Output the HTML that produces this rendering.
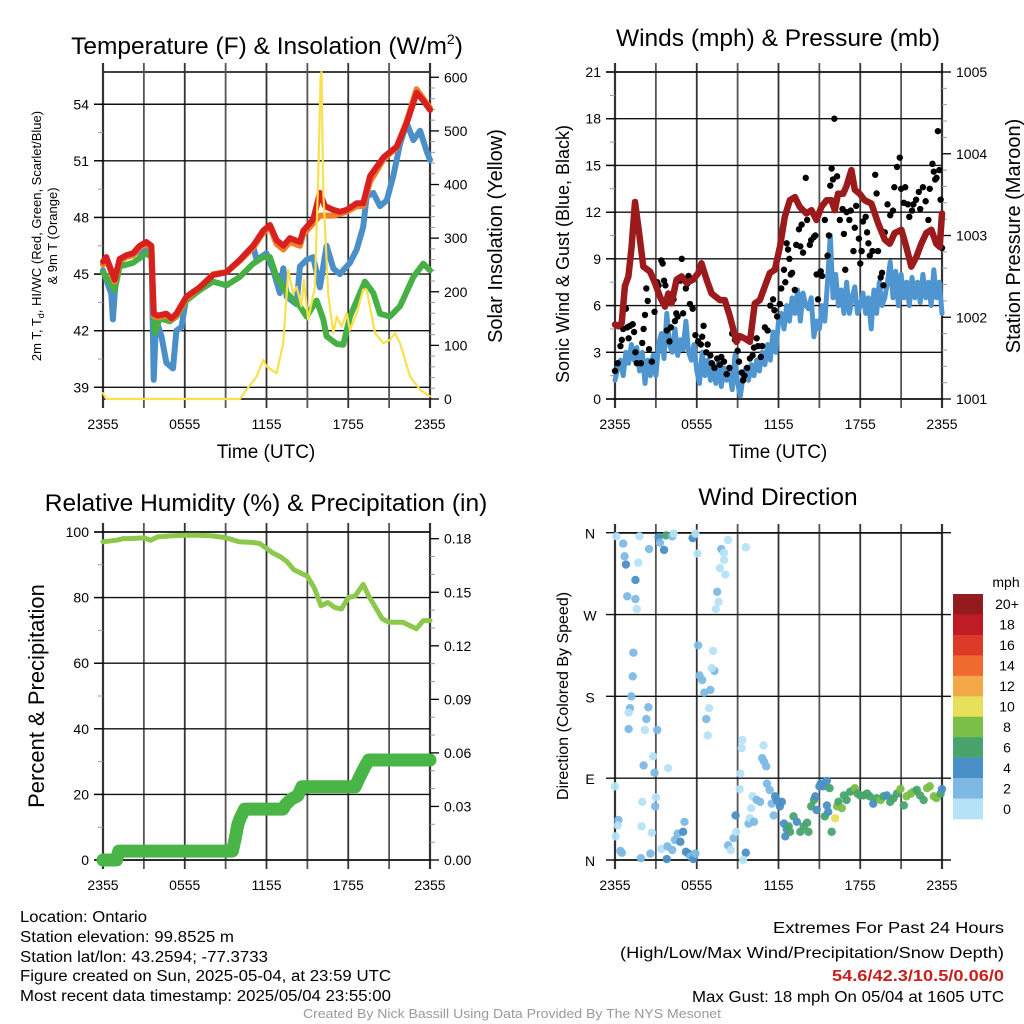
<!DOCTYPE html>
<html><head><meta charset="utf-8"><style>
html,body{margin:0;padding:0;background:#fff;}
svg{display:block;font-family:"Liberation Sans",sans-serif;}
</style></head><body>
<svg id="fig" width="1024" height="1024" viewBox="0 0 1024 1024" xmlns="http://www.w3.org/2000/svg">
<rect width="1024" height="1024" fill="#fff"/>
<g id="tl"></g>
<g id="tr"></g>
<g id="bl"></g>
<g id="br"></g>
<text x="267" y="54" font-size="24.5" text-anchor="middle">Temperature (F) &amp; Insolation (W/m<tspan font-size="14" dy="-10">2</tspan><tspan dy="10">)</tspan></text>
<text x="778" y="46" font-size="24.5" text-anchor="middle">Winds (mph) &amp; Pressure (mb)</text>
<text x="266" y="511" font-size="24.5" text-anchor="middle">Relative Humidity (%) &amp; Precipitation (in)</text>
<text x="778" y="505" font-size="24.5" text-anchor="middle">Wind Direction</text>
<text x="266" y="458" font-size="19" text-anchor="middle">Time (UTC)</text>
<text x="778" y="458" font-size="19" text-anchor="middle">Time (UTC)</text>
<text transform="translate(41,236) rotate(-90)" font-size="13" text-anchor="middle">2m T, T<tspan font-size="9" dy="3">d</tspan><tspan dy="-3">, HI/WC (Red, Green, Scarlet/Blue)</tspan></text>
<text transform="translate(57,236) rotate(-90)" font-size="13" text-anchor="middle">&amp; 9m T (Orange)</text>
<text transform="translate(502,236) rotate(-90)" font-size="20" text-anchor="middle">Solar Insolation (Yellow)</text>
<text transform="translate(569,254) rotate(-90)" font-size="18" text-anchor="middle">Sonic Wind &amp; Gust (Blue, Black)</text>
<text transform="translate(1020,236) rotate(-90)" font-size="20" text-anchor="middle">Station Pressure (Maroon)</text>
<text transform="translate(44,696) rotate(-90)" font-size="22" text-anchor="middle">Percent &amp; Precipitation</text>
<text transform="translate(568,696) rotate(-90)" font-size="16" text-anchor="middle">Direction (Colored By Speed)</text>
<g font-size="15.5">
<text x="20" y="922" textLength="127" lengthAdjust="spacingAndGlyphs">Location: Ontario</text>
<text x="20" y="942" textLength="214" lengthAdjust="spacingAndGlyphs">Station elevation: 99.8525 m</text>
<text x="20" y="962" textLength="248" lengthAdjust="spacingAndGlyphs">Station lat/lon: 43.2594; -77.3733</text>
<text x="20" y="981" textLength="371" lengthAdjust="spacingAndGlyphs">Figure created on Sun, 2025-05-04, at 23:59 UTC</text>
<text x="20" y="1001" textLength="371" lengthAdjust="spacingAndGlyphs">Most recent data timestamp: 2025/05/04 23:55:00</text>
</g>
<g font-size="16">
<text x="773" y="933" textLength="231" lengthAdjust="spacingAndGlyphs">Extremes For Past 24 Hours</text>
<text x="620" y="958" textLength="384" lengthAdjust="spacingAndGlyphs">(High/Low/Max Wind/Precipitation/Snow Depth)</text>
<text x="832" y="981" textLength="172" lengthAdjust="spacingAndGlyphs" font-weight="bold" fill="#c8201e">54.6/42.3/10.5/0.06/0</text>
<text x="692" y="1002" textLength="312" lengthAdjust="spacingAndGlyphs">Max Gust: 18 mph On 05/04 at 1605 UTC</text>
</g>
<text x="303" y="1018" font-size="13" textLength="418" lengthAdjust="spacingAndGlyphs" fill="#999">Created By Nick Bassill Using Data Provided By The NYS Mesonet</text>
</svg>
<script>
// ===== data =====
const xTickLabels = ["2355","0555","1155","1755","2355"];
const tempTicks = [39,42,45,48,51,54];
const solarTicks = [0,100,200,300,400,500,600];
const windTicks = [0,3,6,9,12,15,18,21];
const presTicks = [1001,1002,1003,1004,1005];
const rhTicks = [0,20,40,60,80,100];
const precipTicks = [0,0.03,0.06,0.09,0.12,0.15,0.18];
const dirLabels = ["N","E","S","W","N"];
const speedBins = ["0","2","4","6","8","10","12","14","16","18","20+"];

const redT = [0,0.24,0.86,1.22,1.71,2.2,2.69,3.18,3.55,3.72,4.04,4.65,5.02,5.39,6.12,7.1,8.08,9.06,10.04,11.02,11.76,12.25,12.74,13.23,13.72,14.45,14.7,15.43,15.92,16.29,16.9,17.39,17.88,18.62,19.1,19.6,20.1,20.6,21.55,22.29,23.02,23.51,24];
const redV = [45.66,45.9,44.7,45.8,46,46.1,46.5,46.7,46.5,42.9,42.8,42.9,42.65,42.9,43.8,44.3,44.95,45.1,45.75,46.5,47.3,47.6,46.8,46.5,46.9,46.7,47.3,47.9,49.3,48.6,48.4,48.3,48.4,48.75,48.75,50.2,50.7,51.2,51.75,53,54.6,54.2,53.7];
const orangeV = [45.5,45.8,44.6,45.7,45.9,46,46.4,46.6,46.4,42.8,42.7,42.8,42.6,42.8,43.7,44.3,45,45.1,45.7,46.4,47.2,47.5,46.6,46.3,46.7,46.5,47.1,47.7,48.1,48.1,48.1,48.2,48.3,48.6,48.6,49.9,50.5,51.1,51.7,53.1,54.8,54.3,53.8];
const greenT = [0,0.86,1.22,2.2,3.18,3.55,3.8,4.16,4.9,5.39,6.12,7.1,8.08,9.06,10.04,11.02,11.76,12.25,12.74,13.48,14.45,14.94,15.68,16.17,16.41,17.15,17.64,18.13,18.86,19.23,19.84,20.33,21.06,21.8,22.78,23.51,24];
const greenV = [45.1,44.15,45.4,45.6,46.1,45.9,41.9,42.65,42.5,42.75,43.6,44.15,44.6,44.4,44.85,45.55,45.9,45.9,44.85,44,43.3,42.75,43.6,42.6,41.7,41.3,41.25,42.75,44,44.6,44,42.9,42.75,43.3,44.85,45.55,45.2];
const blueT = [0,0.61,0.73,0.98,1.22,1.5,3.55,3.72,3.9,4.29,4.65,5.14,5.39,5.76,6.12,7.1,8.08,9.06,10.04,11.02,11.27,12.0,12.49,12.98,13.23,13.48,14.21,14.45,14.94,15.43,15.92,16.41,16.9,17.39,18.13,18.62,19.1,19.35,19.84,20.33,20.82,21.31,21.8,22.29,22.78,23.27,23.76,24];
const blueV = [45.2,43.95,42.6,45.2,45.5,45.9,46.4,39.4,42.6,41.7,40.3,40,42,42.2,43.8,44.3,44.95,45.1,45.75,46.5,45.75,46.1,45.2,44,45.3,43.8,43.4,45.4,45.75,45.9,44.3,46.5,45.3,45,45.6,46.3,47.5,49.1,49.3,48.6,48.9,50.2,51.9,53,52.1,52.6,51.5,51.05];
const solarT = [0,0.24,10.04,10.53,11.27,11.76,12.0,12.74,13.23,13.6,13.96,14.21,14.57,14.74,15.06,15.55,15.8,15.97,16.04,16.17,16.53,16.9,17.15,17.51,17.88,18.13,18.62,19.1,19.35,19.96,20.57,21.06,21.43,21.8,22.53,23.27,24];
const solarV = [11,0,0,17,42,73,61,48,104,241,197,209,173,222,148,209,421,600,610,384,197,123,154,135,160,129,160,204,204,123,104,110,123,104,42,17,5];

const presT = [0,0.24,0.49,0.73,0.98,1.22,1.47,1.71,2.08,2.57,2.93,3.3,3.67,3.91,4.15,4.52,4.89,5.25,5.74,6.11,6.35,6.72,7.09,7.7,8.06,8.43,8.92,9.16,9.53,9.9,10.26,10.63,11.0,11.36,11.73,12.1,12.46,12.83,13.2,13.56,14.05,14.42,14.79,15.15,15.52,15.88,16.13,16.37,16.74,16.98,17.35,17.6,17.96,18.33,18.82,19.31,19.8,20.16,20.53,21.02,21.38,21.75,22.12,22.48,22.85,23.22,23.58,23.83,24];
const presV = [1001.91,1001.89,1001.93,1002.38,1002.5,1002.86,1003.41,1003.11,1002.62,1002.56,1002.42,1002.25,1002.13,1002.29,1002.17,1002.46,1002.5,1002.42,1002.46,1002.54,1002.66,1002.46,1002.29,1002.21,1002.21,1002.01,1001.7,1001.77,1001.74,1001.7,1002.17,1002.21,1002.38,1002.54,1002.58,1002.86,1003.23,1003.43,1003.47,1003.35,1003.27,1003.31,1003.19,1003.35,1003.43,1003.43,1003.31,1003.51,1003.51,1003.6,1003.8,1003.56,1003.51,1003.43,1003.39,1003.15,1002.95,1002.9,1003.03,1003.07,1002.86,1002.62,1002.74,1002.9,1003.03,1003.07,1002.9,1002.86,1003.27];
const windV = [1.2,2.0,2.5,1.5,3.0,2.3,3.5,2.5,3.3,1.8,3.0,1.0,2.5,1.5,2.8,1.5,3.5,4.2,2.6,5.5,3.5,3.0,4.5,2.8,3.8,3.2,5.0,3.0,2.5,3.5,1.8,1.0,3.0,1.5,2.5,1.2,2.2,1.0,2.5,0.8,2.0,1.2,1.8,0.6,2.8,1.0,0.2,1.5,2.0,1.2,2.2,1.5,2.5,1.8,3.0,2.2,3.5,2.5,4.3,3.0,5.0,5.5,4.5,6.0,5.0,6.5,5.5,7.0,5.0,6.8,6.0,5.8,6.5,4.0,5.0,4.5,6.0,5.0,7.5,10.5,6.5,8.0,6.0,7.0,5.5,7.5,5.5,6.5,7.2,5.5,6.0,6.8,5.5,6.5,4.5,7.0,5.5,7.5,6.0,6.5,7.5,8.8,6.5,8.2,6.0,8.0,6.5,7.5,6.0,7.8,6.5,7.5,6.2,8.0,6.5,7.5,6.0,8.3,6.5,7.5,5.5];
const gustT = [0,0.2,0.4,0.5,0.6,0.8,0.9,1.0,1.1,1.3,1.4,1.5,1.6,1.9,2.0,2.1,2.2,2.3,2.4,2.5,2.7,2.9,3.1,3.2,3.4,3.5,3.6,3.7,3.8,4.0,4.1,4.3,4.4,4.5,4.6,4.8,4.9,5.0,5.2,5.3,5.4,5.5,5.7,5.9,6.1,6.3,6.4,6.5,6.7,6.8,7.0,7.1,7.3,7.5,7.7,7.8,8.0,8.2,8.4,8.6,8.8,9.0,9.1,9.3,9.4,9.5,9.7,9.9,10.1,10.2,10.4,10.5,10.7,10.8,11.0,11.2,11.4,11.6,11.7,11.9,12.1,12.2,12.4,12.5,12.6,12.7,12.8,12.9,13.0,13.2,13.3,13.5,13.6,13.7,13.8,14.0,14.1,14.3,14.4,14.6,14.7,14.8,14.9,15.1,15.2,15.4,15.6,15.7,15.8,15.9,16.0,16.1,16.3,16.5,16.7,16.8,16.9,17.0,17.2,17.3,17.5,17.6,17.7,17.9,18.0,18.1,18.2,18.4,18.5,18.6,18.7,18.9,19.1,19.2,19.3,19.5,19.6,19.7,19.8,20.0,20.2,20.4,20.5,20.7,20.9,21.0,21.2,21.3,21.5,21.6,21.8,21.9,22.1,22.3,22.4,22.6,22.8,23.0,23.1,23.3,23.4,23.5,23.6,23.7,23.8,23.9,24];
const gustV = [1.8,2.3,3.4,3.8,4.5,5.8,4.6,3.9,4.7,4.8,4.3,3.0,2.3,2.3,3.6,4.5,5.4,7.1,6.3,3.2,2.4,5.6,7.5,7.3,8.9,8.7,7.6,7.3,4.4,3.7,4.6,6.4,5.0,5.5,5.3,7.6,9.0,5.5,7.1,7.4,7.9,6.1,5.8,4.1,3.7,3.5,4.0,4.7,3.0,3.5,2.8,2.3,2.0,2.6,2.2,2.7,2.4,1.6,2.0,4.2,3.8,3.1,2.4,1.7,1.2,1.5,2.0,2.6,2.8,3.3,3.9,3.4,2.7,3.4,4.6,4.4,6.0,6.4,5.7,5.3,6.1,7.1,8.3,7.5,10.0,9.6,9.0,8.0,8.1,7.0,9.9,10.9,9.8,11.2,9.4,14.2,11.5,9.9,10.2,10.4,10.5,8.0,6.4,8.2,7.9,11.5,9.2,10.5,13.7,14.8,14.1,18.0,14.3,11.5,12.2,10.6,8.3,12.0,11.5,12.1,9.5,11.0,12.4,10.3,8.7,9.5,11.4,11.7,10.7,10.0,9.2,9.5,14.4,13.2,9.5,7.8,8.1,7.3,10.7,12.5,11.8,12.1,13.6,14.9,15.5,13.5,12.6,13.6,12.5,11.7,12.1,12.5,12.8,13.3,12.2,13.6,12.7,11.5,13.5,15.1,14.6,14.1,14.2,17.2,14.7,12.8,9.7];

const rhT = [0,1,1.5,2,3,3.5,4,5,6,7,8,9,10,11,11.5,12,12.5,13,13.5,14,15,15.5,16,16.5,17,17.5,18,18.5,19.1,19.5,20,20.5,21,21.5,22,22.5,23,23.5,24];
const rhV = [97,97.5,98,98,98.2,97.5,98.5,98.8,99,99,98.8,98.3,97,96.8,96.5,95,93.5,92.5,91,88.5,86.5,83,77.5,78.5,77,76.5,80,80.5,84,80.5,77,73.5,72.5,72.5,72.5,71.5,70.5,73,73];
const precipT = [0,1.0,1.15,9.5,9.7,9.9,10.1,10.4,13.2,13.4,13.8,14.3,14.6,18.5,18.8,19.2,19.5,24];
const precipV = [0,0,0.005,0.005,0.012,0.02,0.024,0.0285,0.0285,0.031,0.034,0.036,0.041,0.041,0.046,0.052,0.056,0.056];

const dirT = [0.1,0.6,0.7,0.8,1.8,2.5,1.7,1.5,0.9,1.5,1.6,3.2,3.3,3.6,3.75,4.2,4.3,5.7,5.9,6.05,7.8,8.3,8.0,8.0,7.7,8.1,7.5,7.6,7.4,9.6,1.35,1.3,1.2,1.1,1.0,2.45,2.3,1.0,2.2,3.1,2.8,2.1,2.9,3.9,6.1,7.2,6.2,6.4,6.55,7.0,7.3,7.1,6.9,6.7,6.8,0,0.25,0.2,0.05,0.4,0.5,1.9,1.95,2.0,2.7,2.6,3.0,2.95,3.4,3.8,3.85,4.2,4.4,4.6,4.8,5.0,5.1,5.2,5.4,5.55,5.75,5.9,8.3,8.5,8.7,8.85,8.9,9.2,9.15,9.35,9.3,9.6,9.4,9.8,9.9,10.0,10.2,10.1,10.4,10.65,10.9,10.8,10.95,11.1,11.15,11.35,11.5,11.65,11.75,11.9,12.1,12.25,12.4,12.5,12.6,12.75,12.85,13.1,13.35,13.6,13.85,14.1,14.2,14.4,14.6,14.7,14.8,15.0,15.1,15.3,15.55,15.75,15.4,15.55,15.65,15.9,16.15,16.3,16.4,16.65,16.8,17.0,17.25,17.5,17.6,17.8,18.0,18.25,18.5,18.7,18.95,19.2,19.5,19.7,19.95,20.2,20.45,20.7,20.95,21.2,21.4,21.7,21.9,22.15,22.4,22.65,22.9,23.1,23.4,23.6,23.9,24];
const dirV = [356,348,334,325,356,342,327,308,290,287,276,355,349,341,357,356,359,354,359,337,342,352,338,330,321,314,295,284,276,344,228,202,180,167,162,168,155,144,143,143,114,104,96,101,236,230,203,198,184,187,208,211,167,155,137,81,44,38,26,10,8,2,37,64,30,7,69,59,12,1,15,11,22,29,20,31,42,9,7,4,1,7,16,11,24,49,31,95,78,132,123,8,0,40,46,57,42,70,66,64,126,112,108,103,84,77,62,49,70,65,59,64,40,26,34,37,31,48,42,31,37,41,31,59,66,70,55,81,84,81,87,79,48,60,53,31,46,59,64,57,71,66,75,77,79,73,71,71,73,70,62,68,66,70,71,64,68,73,78,60,70,73,75,77,71,66,79,81,70,68,73,78];
const dirS = [0,2,2,4,0,2,0,4,2,2,0,4,2,4,6,2,0,4,0,0,2,0,0,0,0,0,2,0,0,0,2,2,2,2,0,2,2,2,0,2,0,2,2,0,2,0,2,2,2,2,2,0,0,2,0,0,2,0,0,2,2,2,0,0,0,2,0,2,0,4,2,2,2,2,4,4,2,4,4,2,4,2,2,0,2,4,0,0,0,0,0,4,0,2,0,0,2,0,2,2,0,2,2,2,2,2,2,2,4,4,4,4,4,4,4,6,6,6,4,6,6,6,6,6,6,4,4,4,4,4,4,6,6,4,4,6,10,8,6,8,6,6,6,6,8,6,6,6,6,6,4,6,8,6,4,6,6,6,8,6,8,8,8,6,6,6,8,8,8,8,6,4];

const binColors = ["#b5e2f7","#7db9e4","#4a8fc6","#48a46c","#7bbf48","#e6e05a","#f5a848","#ef6a2f","#de3a2a","#bf1c25","#931b1d"];

// ===== helpers =====
const NS = "http://www.w3.org/2000/svg";
function mk(parent, tag, attrs){ const e=document.createElementNS(NS,tag); for(const k in attrs) e.setAttribute(k,attrs[k]); parent.appendChild(e); return e; }
const X0=103, X1=430, RX0=615, RX1=942;
function xL(h){ return X0 + h*(X1-X0)/24; }
function xR(h){ return RX0 + h*(RX1-RX0)/24; }
function yTemp(t){ return 399 - (t-38.38)*18.87; }
function ySolar(s){ return 399 - s*0.5362; }
function yWind(w){ return 399 - w*327/21; }
function yPres(p){ return 399 - (p-1001)*327/4; }
function yRH(r){ return 860 - r*3.28; }
function yPrecip(p){ return 860 - p*1785; }
function yDir(d){ return 860 - d*327.3/360; }

function frame(g, x0, x1, y0, y1, name){
  const r = mk(g,"rect",{x:x0,y:y0,width:x1-x0,height:y1-y0,fill:"none",stroke:"#000","stroke-width":1.5});
  
  
  for(let i=0;i<=8;i++){
    const x = x0 + i*(x1-x0)/8;
    const l = mk(g,"line",{x1:x,x2:x,y1:y0-9,y2:y1+9,stroke:(i%2?"#555":"#333"),"stroke-width":(i==0||i==8)?2.2:1.8});
    
    
  }
  xTickLabels.forEach((lab,i)=>{
    const t = mk(g,"text",{x:x0+i*(x1-x0)/4,y:y1+30,"font-size":14,"text-anchor":"middle"});
    t.textContent = lab;
    
    
  });
}
function hTicks(g, vals, yf, x0, x1, side, fmt, name, grid, minorN){
  vals.forEach((v,i)=>{
    const y = yf(v);
    if(grid){
      const l = mk(g,"line",{x1:x0-9,x2:x1,y1:y,y2:y,stroke:"#111","stroke-width":1.4});
      
      
    }
    const xa = side=="left"?x0:x1;
    const tk = mk(g,"line",{x1:xa,x2:side=="left"?xa-9:xa+9,y1:y,y2:y,stroke:"#000","stroke-width":1.3});
    
    
    const t = mk(g,"text",{x:side=="left"?xa-14:xa+14,y:y+5,"font-size":14,"text-anchor":side=="left"?"end":"start"});
    t.textContent = fmt(v);
    
    
    if(i<vals.length-1 && minorN){
      for(let k=1;k<minorN;k++){
        const ym = yf(v + (vals[i+1]-v)*k/minorN);
        const m = mk(g,"line",{x1:xa,x2:side=="left"?xa-5:xa+5,y1:ym,y2:ym,stroke:"#999","stroke-width":1});
        
        
      }
    }
  });
}
function poly(g, T, V, xf, yf, color, w, name){
  const pts = T.map((t,i)=>xf(t).toFixed(1)+","+yf(V[i]).toFixed(1)).join(" ");
  const p = mk(g,"polyline",{points:pts,fill:"none",stroke:color,"stroke-width":w,"stroke-linejoin":"round","stroke-linecap":"round"});
  
  
  return p;
}

// ===== top-left: temperature =====
const tl = document.getElementById("tl");
frame(tl, X0, X1, 72, 399, "temp");
hTicks(tl, tempTicks, yTemp, X0, X1, "left", v=>v, "temp-y", true, 2);
hTicks(tl, solarTicks, ySolar, X0, X1, "right", v=>v, "solar-y", false, 5);
poly(tl, blueT, blueV, xL, yTemp, "#4a8fc8", 6, "wind-chill-line");
poly(tl, greenT, greenV, xL, yTemp, "#47b045", 6, "dewpoint-line");
poly(tl, redT, orangeV, xL, yTemp, "#f07f2a", 6, "temp-9m-line");
poly(tl, redT, redV, xL, yTemp, "#d8211f", 6, "temp-2m-line");
poly(tl, solarT, solarV, xL, ySolar, "#f9e04c", 2.2, "solar-line");

// ===== top-right: wind =====
const tr = document.getElementById("tr");
frame(tr, RX0, RX1, 72, 399, "wind");
hTicks(tr, windTicks, yWind, RX0, RX1, "left", v=>v, "wind-y", true, 2);
hTicks(tr, presTicks, yPres, RX0, RX1, "right", v=>v, "pres-y", false, 5);
const windT = windV.map((v,i)=>i*24/(windV.length-1));
poly(tr, windT, windV, xR, yWind, "#4f95d0", 5, "sonic-wind-line");
gustT.forEach((t,i)=>{
  const c = mk(tr,"circle",{cx:xR(t),cy:yWind(gustV[i]),r:3.2,fill:"#000"});
  
  
});
poly(tr, presT, presV, xR, yPres, "#9b1a1c", 6.5, "pressure-line");

// ===== bottom-left: RH & precip =====
const bl = document.getElementById("bl");
frame(bl, X0, X1, 532, 860, "rh");
hTicks(bl, rhTicks, yRH, X0, X1, "left", v=>v, "rh-y", true, 2);
hTicks(bl, precipTicks, yPrecip, X0, X1, "right", v=>v.toFixed(2), "precip-y", false, 3);
poly(bl, rhT, rhV, xL, yRH, "#8cc84b", 5, "rh-line");
poly(bl, precipT, precipV, xL, yPrecip, "#4ab547", 13, "precip-line");

// ===== bottom-right: direction =====
const br = document.getElementById("br");
frame(br, RX0, RX1, 533, 860, "dir");
[0,90,180,270,360].forEach((d,i)=>{
  const y = yDir(d);
  const l = mk(br,"line",{x1:RX0-9,x2:RX1+9,y1:y,y2:y,stroke:"#111","stroke-width":1.4});
  
  
  const t = mk(br,"text",{x:RX0-25,y:y+6,"font-size":14,"text-anchor":"middle"});
  t.textContent = dirLabels[i];
  
  
});
dirT.forEach((t,i)=>{
  const c = mk(br,"circle",{cx:xR(t),cy:yDir(dirV[i]),r:4.2,fill:binColors[dirS[i]/2],"fill-opacity":0.95});
  
  
});
const ml = mk(br,"text",{x:1006,y:587,"font-size":14,"text-anchor":"middle"});
ml.textContent = "mph";


const bh = (819-594)/speedBins.length;
speedBins.slice().reverse().forEach((lab,i)=>{
  const idx = speedBins.length-1-i;
  const r = mk(br,"rect",{x:953,y:594+i*bh,width:30,height:bh+0.3,fill:binColors[idx]});
  
  
  const t = mk(br,"text",{x:1007,y:594+i*bh+bh/2+5,"font-size":14,"text-anchor":"middle"});
  t.textContent = lab;
  
  
});
</script>
</body></html>
